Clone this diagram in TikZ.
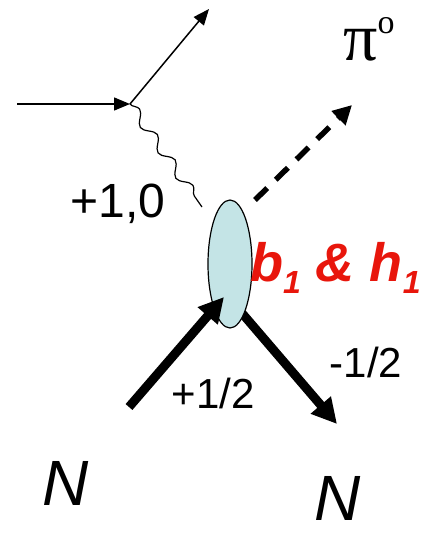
\documentclass[tikz,border=0pt]{standalone}
\usepackage{fontspec}
\setmainfont{Liberation Sans}
\newfontfamily\greekfont{Liberation Serif}
\usetikzlibrary{shapes,arrows.meta,decorations.pathmorphing}
\definecolor{blobcyan}{RGB}{196,228,230}
\definecolor{labelred}{RGB}{232,22,12}

\begin{document}
\begin{tikzpicture}[x=1pt, y=-1pt,
    % Styles for the lines and labels of the diagram
    lepton/.style={draw, line width=1.5pt, -{Triangle[length=16pt, width=13pt]}},
    photon/.style={draw, line width=1.2pt, decorate, decoration={snake, segment length=31pt, amplitude=5pt}},
    meson/.style={draw, line width=5.5pt, dash pattern=on 17pt off 12pt, -{Triangle[length=19pt, width=19pt]}},
    nucleon/.style={draw, line width=9pt, -{Triangle[length=25pt, width=25pt]}},
    blob/.style={ellipse, draw, line width=1.2pt, fill=blobcyan, minimum width=44pt, minimum height=128pt, inner sep=0pt},
    txt/.style={inner sep=0pt, anchor=base, font=\fontsize{42}{42}\selectfont}]

    \useasboundingbox (0,0) rectangle (433,533);

    % Points: lepton vertex and line ends
    \coordinate (ein) at (17,104);
    \coordinate (vtx) at (130,104);
    \coordinate (eout) at (209,9);
    \coordinate (gend) at (202,207);
    \coordinate (pistart) at (255,200);
    \coordinate (pitip) at (352,105);
    \coordinate (nin) at (129,407);
    \coordinate (nintip) at (224,297);
    \coordinate (noutstart) at (241,312);
    \coordinate (nouttip) at (337,424);

    % Edges: lepton scattering
    \path [lepton] (ein) -- (vtx);
    \path [lepton] (vtx) -- (eout);

    % Edge: virtual photon
    \path [photon] (vtx) -- (gend);

    % Edge: outgoing pion
    \path [meson] (pistart) -- (pitip);

    % Edge: outgoing nucleon (under the blob)
    \path [nucleon] (noutstart) -- (nouttip);

    % Node: hadronic blob
    \node [blob] (blob) at (230,264) {};

    % Edge: incoming nucleon (over the blob)
    \path [nucleon] (nin) -- (nintip);

    % Labels
    \node [txt, font=\fontsize{48}{48}\selectfont] (helicity) at (118,217) {+1,0};
    \node [txt] (spinin) at (213,408) {+1/2};
    \node [txt] (spinout) at (366,377) {-1/2};
    \node [txt, font=\fontsize{64}{64}\selectfont\itshape] (nleft) at (66,505) {N};
    \node [txt, font=\fontsize{64}{64}\selectfont\itshape] (nright) at (338,520) {N};
    \node [inner sep=0pt, anchor=base west, font=\greekfont\fontsize{68}{68}\selectfont] (pilabel) at (343,60) {π\raisebox{27pt}{\fontsize{34}{34}\selectfont o}};
    \node [inner sep=0pt, anchor=base west, text=labelred, font=\fontsize{54}{54}\selectfont\bfseries\itshape] (bhlabel) at (250,281) {b\raisebox{-12pt}{\fontsize{32}{32}\selectfont 1} \& h\raisebox{-12pt}{\fontsize{32}{32}\selectfont 1}};

\end{tikzpicture}
\end{document}
